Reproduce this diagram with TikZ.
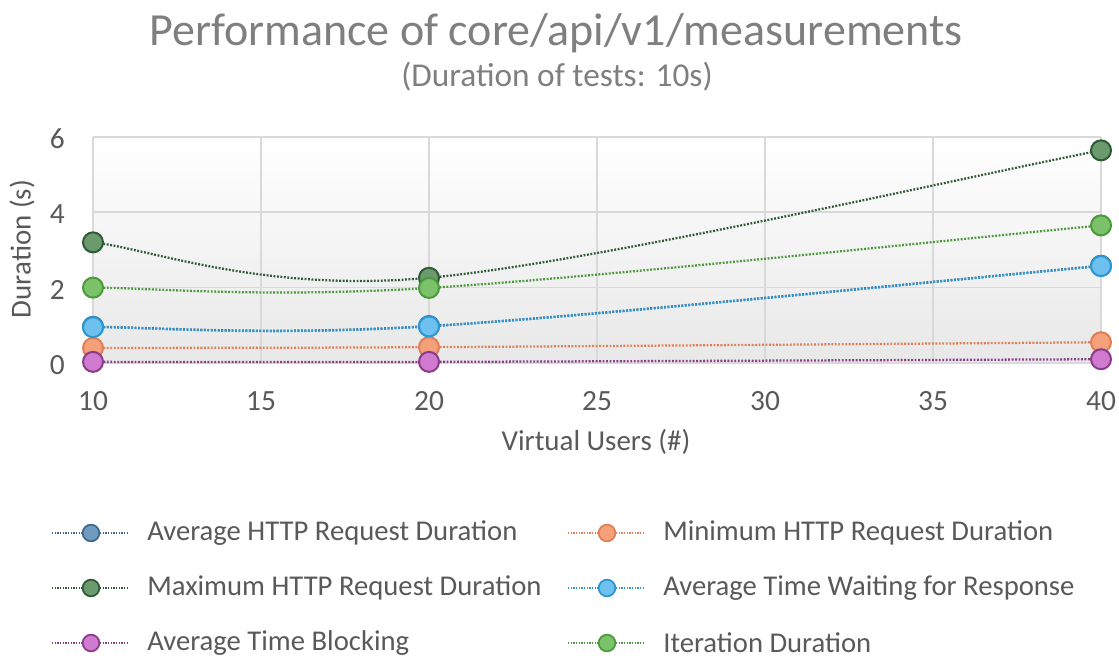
\documentclass[tikz,border=0pt]{standalone}
\usepackage{fontspec}
\setmainfont{Carlito}
\definecolor{txt}{HTML}{595959}
\definecolor{ttl}{HTML}{7F7F7F}
\definecolor{grid}{HTML}{D9D9D9}
% series colours: fill / outline
\definecolor{avgF}{HTML}{6F9BC0}\definecolor{avgD}{HTML}{41688C}
\definecolor{minF}{HTML}{F4A07A}\definecolor{minD}{HTML}{E07E55}
\definecolor{maxF}{HTML}{6A9A6E}\definecolor{maxD}{HTML}{2F5A36}
\definecolor{waitF}{HTML}{6EC0EE}\definecolor{waitD}{HTML}{2A96D2}
\definecolor{blkF}{HTML}{D07AD0}\definecolor{blkD}{HTML}{8A3C8A}
\definecolor{itF}{HTML}{7CC26A}\definecolor{itD}{HTML}{4A9A3C}
\tikzset{
  gridline/.style={draw=grid, line width=1.1pt},
  ticklabel/.style={text=txt, font=\fontsize{22}{26}\selectfont, inner sep=0pt},
  axislabel/.style={text=txt, font=\fontsize{21.7}{26}\selectfont, inner sep=0pt},
  series/.style={line width=1.7pt, dash pattern=on 1.4pt off 1.2pt},
  mk/.style={circle, minimum size=15pt, inner sep=0pt, line width=1.5pt},
  legline/.style={line width=0.9pt, dash pattern=on 1pt off 1pt},
  legmk/.style={circle, minimum size=12.5pt, inner sep=0pt, line width=1.3pt},
  legtext/.style={text=txt, font=\fontsize{21.5}{26}\selectfont, anchor=west, inner sep=0pt},
}
\begin{document}
\begin{tikzpicture}[x=0.75pt,y=0.75pt]
\useasboundingbox (0,0) rectangle (1119,661);

% title
\node[text=ttl, font=\fontsize{34.5}{40}\selectfont, inner sep=0pt] (title) at (556,628) {Performance of core/api/v1/measurements};
\node[text=ttl, font=\fontsize{25}{30}\selectfont, inner sep=0pt] (subtitle) at (557,584) {(Duration of tests: 10s)};

% tick labels on the value axis
\foreach \v/\yy in {0/296,2/371.4,4/446.8,6/522.2}
  \node[ticklabel, anchor=east] (yl\v) at (65,\yy) {\v};
% tick labels on the user axis
\foreach \u [count=\k from 0] in {10,15,20,25,30,35,40}
  \node[ticklabel] (xl\u) at ({93+168*\k},260) {\u};

\node[axislabel] (xtitle) at (596,219) {Virtual Users (\#)};
\node[axislabel, rotate=90] (ytitle) at (22,412) {Duration (s)};

\begin{scope}[shift={(93,298)}, x=25.2pt, y=28.275pt]
  % plot area
  \shade[top color=white, bottom color=black!9] (0,0) rectangle (30,6);
  \foreach \g in {0,5,...,30} \draw[gridline] (\g,0) -- (\g,6);
  \foreach \g in {0,2,4,6} \draw[gridline] (0,\g) -- (30,\g);

  % data points (x = users - 10, y = seconds)
  \coordinate (a1) at (0,0.96);  \coordinate (a2) at (10,0.98);  \coordinate (a3) at (30,2.58);
  \coordinate (n1) at (0,0.40);  \coordinate (n2) at (10,0.42);  \coordinate (n3) at (30,0.55);
  \coordinate (m1) at (0,3.20);  \coordinate (m2) at (10,2.26);  \coordinate (m3) at (30,5.64);
  \coordinate (w1) at (0,0.95);  \coordinate (w2) at (10,0.97);  \coordinate (w3) at (30,2.57);
  \coordinate (b1) at (0,0.03);  \coordinate (b2) at (10,0.03);  \coordinate (b3) at (30,0.10);
  \coordinate (i1) at (0,2.00);  \coordinate (i2) at (10,1.99);  \coordinate (i3) at (30,3.65);

  % Average HTTP Request Duration
  \draw[series, avgD] (a1) .. controls (1.667,0.963) and (5,0.713) .. (a2)
                           .. controls (15,1.250) and (26.667,2.313) .. (a3);
  \foreach \p in {a1,a2,a3} \node[mk, fill=avgF, draw=avgD] (mk\p) at (\p) {};
  % Minimum HTTP Request Duration
  \draw[series, minD] (n1) .. controls (1.667,0.403) and (5,0.395) .. (n2)
                           .. controls (15,0.445) and (26.667,0.528) .. (n3);
  \foreach \p in {n1,n2,n3} \node[mk, fill=minF, draw=minD] (mk\p) at (\p) {};
  % Maximum HTTP Request Duration
  \draw[series, maxD] (m1) .. controls (1.667,3.043) and (5,1.853) .. (m2)
                           .. controls (15,2.667) and (26.667,5.077) .. (m3);
  \foreach \p in {m1,m2,m3} \node[mk, fill=maxF, draw=maxD] (mk\p) at (\p) {};
  % Average Time Waiting for Response
  \draw[series, waitD] (w1) .. controls (1.667,0.953) and (5,0.700) .. (w2)
                            .. controls (15,1.240) and (26.667,2.303) .. (w3);
  \foreach \p in {w1,w2,w3} \node[mk, fill=waitF, draw=waitD] (mk\p) at (\p) {};
  % Average Time Blocking
  \draw[series, blkD] (b1) .. controls (1.667,0.03) and (5,0.018) .. (b2)
                           .. controls (15,0.042) and (26.667,0.088) .. (b3);
  \foreach \p in {b1,b2,b3} \node[mk, fill=blkF, draw=blkD] (mk\p) at (\p) {};
  % Iteration Duration
  \draw[series, itD] (i1) .. controls (1.667,1.998) and (5,1.715) .. (i2)
                          .. controls (15,2.265) and (26.667,3.373) .. (i3);
  \foreach \p in {i1,i2,i3} \node[mk, fill=itF, draw=itD] (mk\p) at (\p) {};
\end{scope}

% legend
\foreach \name/\lx/\yy/\cf/\cd/\lab in {
    la/52/128/avgF/avgD/Average HTTP Request Duration,
    lm/52/73/maxF/maxD/Maximum HTTP Request Duration,
    lb/52/18/blkF/blkD/Average Time Blocking,
    ln/568/128/minF/minD/Minimum HTTP Request Duration,
    lw/568/73/waitF/waitD/Average Time Waiting for Response,
    li/568/18/itF/itD/Iteration Duration} {
  \coordinate (\name s) at (\lx,\yy);
  \coordinate (\name e) at (\lx+77,\yy);
  \draw[legline, \cd] (\name s) -- (\name e);
  \node[legmk, fill=\cf, draw=\cd] (\name m) at (\lx+39,\yy) {};
  \node[legtext] (\name t) at (\lx+95,\yy) {\lab};
}
\end{tikzpicture}
\end{document}
